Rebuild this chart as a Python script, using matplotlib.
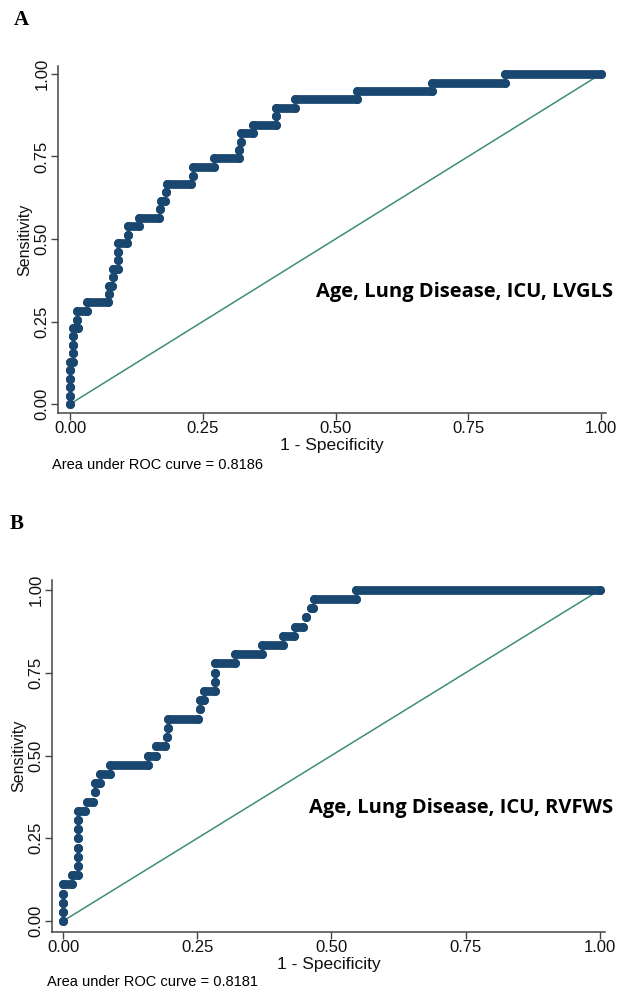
import matplotlib

matplotlib.use("Agg")

import matplotlib.pyplot as plt

# ROC steps: one entry per sensitivity level,
# with the 1-specificity where the level starts and ends
sens_a = [0.000, 0.026, 0.051, 0.077, 0.103, 0.128, 0.154, 0.179, 0.205, 0.231,
          0.256, 0.282, 0.308, 0.333, 0.359, 0.385, 0.410, 0.436, 0.462, 0.487,
          0.513, 0.538, 0.564, 0.590, 0.615, 0.641, 0.667, 0.692, 0.718, 0.744,
          0.769, 0.795, 0.821, 0.846, 0.872, 0.897, 0.923, 0.949, 0.974, 1.000]
fpr_a_start = [0.000, 0.000, 0.000, 0.000, 0.000, 0.000, 0.006, 0.006, 0.006, 0.006,
               0.014, 0.014, 0.032, 0.073, 0.073, 0.081, 0.081, 0.090, 0.090, 0.090,
               0.109, 0.109, 0.130, 0.170, 0.172, 0.180, 0.183, 0.231, 0.231, 0.271,
               0.319, 0.322, 0.322, 0.345, 0.388, 0.388, 0.423, 0.540, 0.681, 0.819]
fpr_a_end = [0.000, 0.000, 0.000, 0.000, 0.000, 0.006, 0.006, 0.006, 0.006, 0.016,
             0.014, 0.032, 0.072, 0.073, 0.080, 0.081, 0.090, 0.090, 0.090, 0.108,
             0.109, 0.130, 0.168, 0.170, 0.178, 0.180, 0.228, 0.231, 0.271, 0.318,
             0.319, 0.322, 0.345, 0.387, 0.388, 0.423, 0.540, 0.681, 0.819, 1.000]

sens_b = [0.000, 0.028, 0.056, 0.083, 0.111, 0.139, 0.167, 0.194, 0.222, 0.250,
          0.278, 0.306, 0.333, 0.361, 0.389, 0.417, 0.444, 0.472, 0.500, 0.528,
          0.556, 0.583, 0.611, 0.639, 0.667, 0.694, 0.722, 0.750, 0.778, 0.806,
          0.833, 0.861, 0.889, 0.917, 0.944, 0.972, 1.000]
fpr_b_start = [0.000, 0.000, 0.000, 0.000, 0.000, 0.016, 0.028, 0.028, 0.028, 0.028,
               0.028, 0.028, 0.028, 0.044, 0.059, 0.059, 0.068, 0.087, 0.159, 0.174,
               0.193, 0.196, 0.196, 0.255, 0.255, 0.262, 0.283, 0.283, 0.283, 0.320,
               0.370, 0.410, 0.432, 0.453, 0.462, 0.468, 0.546]
fpr_b_end = [0.000, 0.000, 0.000, 0.000, 0.016, 0.028, 0.028, 0.028, 0.028, 0.028,
             0.028, 0.028, 0.041, 0.056, 0.059, 0.068, 0.087, 0.159, 0.174, 0.190,
             0.193, 0.196, 0.251, 0.255, 0.262, 0.283, 0.283, 0.283, 0.320, 0.370,
             0.410, 0.430, 0.447, 0.453, 0.466, 0.546, 1.000]

ticks = [0.0, 0.25, 0.5, 0.75, 1.0]
tick_labels = ["0.00", "0.25", "0.50", "0.75", "1.00"]

NAVY = "#1a476f"
DIAG = "#3f8c7a"
W, H = 620, 994


def fx(px):
    return px / W


def fy(py):
    return 1 - py / H


def draw_roc(ax, sens, fpr_start, fpr_end, xlim, ylim):
    ax.plot([0, 1], [0, 1], color=DIAG, linewidth=1.1, zorder=1)
    for y, x0, x1 in zip(sens, fpr_start, fpr_end):
        if x1 > x0:
            ax.plot([x0, x1], [y, y], color=NAVY, linewidth=6.3,
                    solid_capstyle="round", zorder=2)
    ax.plot(fpr_start, sens, "o", color=NAVY, markersize=6.5,
            markeredgewidth=0, zorder=3)
    ax.plot(fpr_end, sens, "o", color=NAVY, markersize=6.5,
            markeredgewidth=0, zorder=3)

    ax.set_xlim(*xlim)
    ax.set_ylim(*ylim)
    ax.set_xticks(ticks)
    ax.set_xticklabels(tick_labels)
    ax.set_yticks(ticks)
    ax.set_yticklabels(tick_labels, rotation=90, va="center")
    ax.tick_params(direction="out", length=5, width=1, color="#444444",
                   labelsize=12, pad=1, labelcolor="#111111")
    for side in ("top", "right"):
        ax.spines[side].set_visible(False)
    for side in ("left", "bottom"):
        ax.spines[side].set_color("#444444")
        ax.spines[side].set_linewidth(1.1)
    ax.set_xlabel("1 - Specificity", fontsize=12.5, labelpad=1,
                  color="#111111")
    ax.set_ylabel("Sensitivity", fontsize=11.5, labelpad=2, color="#111111")


fig = plt.figure(figsize=(6.2, 9.94), dpi=100)
plt.rcParams["font.family"] = ["Liberation Sans", "DejaVu Sans"]

ax_a = fig.add_axes([fx(58), fy(413), fx(606) - fx(58), fy(66) - fy(413)])
draw_roc(ax_a, sens_a, fpr_a_start, fpr_a_end, (-0.0226, 1.0094), (-0.027, 1.024))

ax_b = fig.add_axes([fx(52), fy(932), fx(605) - fx(52), fy(580) - fy(932)])
draw_roc(ax_b, sens_b, fpr_b_start, fpr_b_end, (-0.0205, 1.0094), (-0.033, 1.030))

fig.text(fx(14), fy(20), "A", fontsize=15, weight="bold",
         family="Liberation Serif", va="center")
fig.text(fx(10), fy(524), "B", fontsize=15, weight="bold",
         family="Liberation Serif", va="center")

fig.text(fx(613), fy(292), "Age, Lung Disease, ICU, LVGLS", fontsize=14.5,
         weight="bold", family="Open Sans", ha="right", va="center")
fig.text(fx(613), fy(808), "Age, Lung Disease, ICU, RVFWS", fontsize=14.5,
         weight="bold", family="Open Sans", ha="right", va="center")

fig.text(fx(52), fy(465), "Area under ROC curve = 0.8186", fontsize=10.5,
         va="center")
fig.text(fx(47), fy(982), "Area under ROC curve = 0.8181", fontsize=10.5,
         va="center")

fig.savefig("out.png", dpi=100)
plt.close(fig)
